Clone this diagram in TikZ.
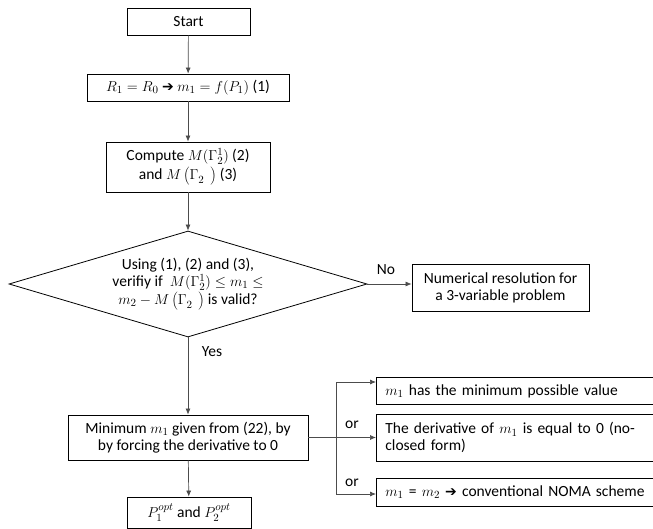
\documentclass[tikz,border=0pt]{standalone}
\usepackage{fontspec}
\setmainfont{Carlito}
\newfontfamily\dejavu{DejaVu Sans}
\usetikzlibrary{shapes.geometric,arrows.meta}
\newcommand{\harr}{{\dejavu\fontsize{14}{15}\selectfont ➔}}
\newcommand{\MG}{M\left(\Gamma_2^{\vphantom{1}}\ \,\right)}
\begin{document}
\begin{tikzpicture}[x=1pt,y=-1pt,
  every node/.style={font=\fontsize{15.5}{17}\selectfont},
  box/.style={draw=black,line width=0.8pt,inner sep=0pt,align=center},
  rbox/.style={draw=black,line width=0.8pt,inner xsep=9pt,inner ysep=0pt,text width=300pt,align=left,anchor=north west},
  conn/.style={draw=black!70,line width=0.7pt},
  arr/.style={conn,-{Latex[length=6pt,width=5pt]}},
  lbl/.style={inner sep=0pt}]
\useasboundingbox (0,0) rectangle (653,529);
\clip (0,0) rectangle (653,529);
% main column
\node[box,minimum width=123pt,minimum height=27pt] (start) at (188.5,21.5) {Start};
\node[box,minimum width=202pt,minimum height=27pt] (b2) at (188,87.5) {$R_1 = R_0$ \harr\ $m_1 = f(P_1)$ (1)};
\node[box,minimum width=164pt,minimum height=50pt] (b3) at (188,167) {Compute $M(\Gamma_2^1)$ (2)\\[2pt]and $\MG$ (3)};
\node[diamond,draw=black,line width=0.8pt,inner sep=0pt,minimum width=358pt,minimum height=106pt] (dec) at (188,284) {};
\node[lbl,align=center] (dectext) at (188,284) {Using (1), (2) and (3),\\verifiy if\ \ $M(\Gamma_2^1) \le m_1 \le$\\[1pt]$m_2 - \MG$ is valid?};
\node[box,minimum width=177pt,minimum height=47pt] (num) at (500.5,287.5) {Numerical resolution for\\a 3-variable problem};
\node[box,minimum width=240pt,minimum height=45pt] (mini) at (188,437.5) {Minimum $m_1$ given from (22), by\\by forcing the derivative to 0};
\node[box,minimum width=124pt,minimum height=31pt] (popt) at (189,512.5) {$P_1^{opt}$ and $P_2^{opt}$};
% right column
\node[rbox,minimum height=27pt] (r1) at (376,377) {$m_1$ has the minimum possible value};
\node[rbox,minimum height=47pt] (r2) at (376,414) {The derivative of $m_1$ is equal to 0 (no-\\closed form)};
\node[rbox,minimum height=28pt] (r3) at (376,478) {$m_1$ = $m_2$ \harr\ conventional NOMA scheme};
% connectors
\draw[arr] (start) -- (b2);
\draw[arr] (b2) -- (b3);
\draw[arr] (b3) -- (dec);
\draw[arr] (dec.east) -- (dec.east -| num.west);
\draw[arr] (dec.south) -- (mini.north);
\draw[arr] (mini) -- (popt);
\coordinate (br) at (336,437.5);
\coordinate (t1) at (336,382);
\coordinate (t3) at (336,494);
\draw[conn] (mini.east) -- (br);
\draw[conn] (t1) -- (t3);
\draw[arr] (t1) -- (t1 -| r1.west);
\draw[arr] (br) -- (br -| r2.west);
\draw[arr] (t3) -- (t3 -| r3.west);
% labels
\node[lbl] (no) at (386,270) {No};
\node[lbl] (yes) at (212,352) {Yes};
\node[lbl] (or1) at (352,425) {or};
\node[lbl] (or2) at (352,483) {or};
\end{tikzpicture}
\end{document}
